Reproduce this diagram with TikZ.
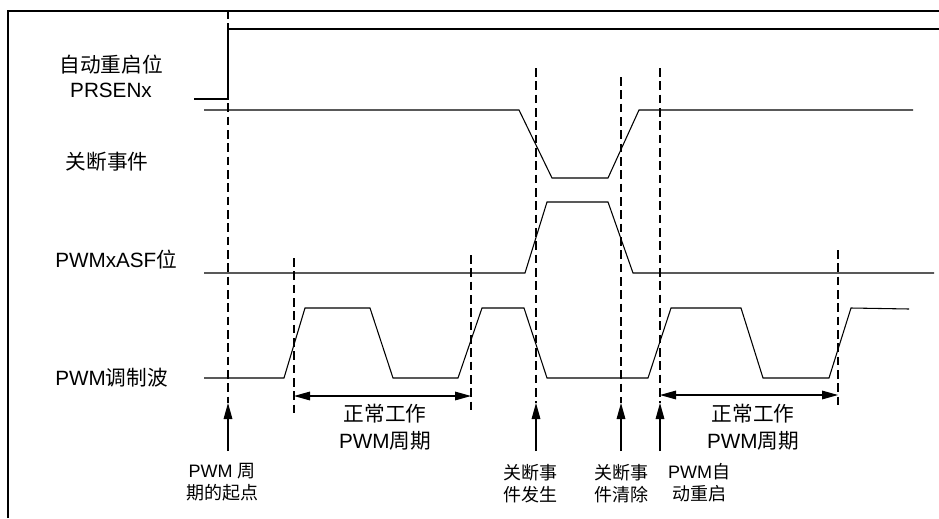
\documentclass[tikz,border=0pt]{standalone}
\usepackage{fontspec}
\setmainfont{Liberation Sans}
\newfontfamily\cjk{Noto Sans CJK SC}
\usetikzlibrary{arrows.meta}
\newcommand{\zh}[1]{{\cjk #1}}

\begin{document}
\begin{tikzpicture}[x=0.75pt, y=-0.75pt, >={Triangle[length=12pt,width=6.5pt]},
	sig/.style={line width=0.8pt},
	tline/.style={line width=1.8pt, dash pattern=on 6.5pt off 3.5pt},
	lbl/.style={font=\fontsize{15.5}{18}\selectfont, inner sep=0pt},
	note/.style={font=\fontsize{13.5}{16.5}\selectfont, align=center, inner sep=0pt},
	period/.style={font=\fontsize{15.5}{20}\selectfont, align=center, inner sep=0pt}]
	\useasboundingbox (0,0) rectangle (939,518);
	% frame
	\draw[line width=1.5pt] (8,518) -- (8,10.5) -- (939,10.5);
	% signal names
	\node[lbl] (l-auto) at (111,65) {\zh{自动重启位}};
	\node[lbl] (l-prsen) at (111,90) {PRSENx};
	\node[lbl] (l-shut) at (107,162) {\zh{关断事件}};
	\node[lbl, anchor=west] (l-asf) at (55,260) {PWMxASF\zh{位}};
	\node[lbl, anchor=west] (l-pwm) at (55,378) {PWM\zh{调制波}};
	% waveforms
	\draw[sig] (194,99) -- (228,99) -- (228,29) -- (939,29);
	\draw[sig] (204,110) -- (519,110) -- (552,178) -- (608,178) -- (639,110) -- (913,110);
	\draw[sig] (204,273) -- (525,273) -- (547,202) -- (608,202) -- (633,273) -- (934,273);
	\draw[sig] (204,378) -- (284,378) -- (305,308) -- (370,308) -- (393,378) -- (458,378)
		-- (482,308) -- (524,308) -- (547,378) -- (648,378) -- (671,308) -- (741,308)
		-- (763,378) -- (829,378) -- (851,308) -- (909,309);
	% time marks
	\coordinate (t-start) at (228,403);
	\coordinate (t-occur) at (536,403);
	\coordinate (t-clear) at (621,403);
	\coordinate (t-restart) at (660,403);
	\coordinate (p1-a) at (294,396);
	\coordinate (p1-b) at (471,396);
	\coordinate (p2-a) at (660,395);
	\coordinate (p2-b) at (838,395);
	\foreach \x/\ya/\yb in {228/10/403, 294/258/415, 471/255/413, 536/68/403,
		621/77/403, 660/68/403, 838/250/407}
		\draw[tline] (\x,\ya) -- (\x,\yb);
	% periods
	\draw[<->, sig] (p1-a) -- (p1-b);
	\draw[<->, sig] (p2-a) -- (p2-b);
	\node[period] (per1) at (385,427) {\zh{正常工作}\\PWM\zh{周期}};
	\node[period] (per2) at (753,427) {\zh{正常工作}\\PWM\zh{周期}};
	% events
	\foreach \n/\x in {start/228, occur/536, clear/621, restart/660} {
		\coordinate (b-\n) at (\x,451);
		\draw[->, sig] (b-\n) -- (t-\n);
	}
	\node[note] (n-start) at (222,482) {PWM \zh{周}\\\zh{期的起点}};
	\node[note] (n-occur) at (530,484) {\zh{关断事}\\\zh{件发生}};
	\node[note] (n-clear) at (621,484) {\zh{关断事}\\\zh{件清除}};
	\node[note] (n-restart) at (699,483) {PWM\zh{自}\\\zh{动重启}};
\end{tikzpicture}
\end{document}
